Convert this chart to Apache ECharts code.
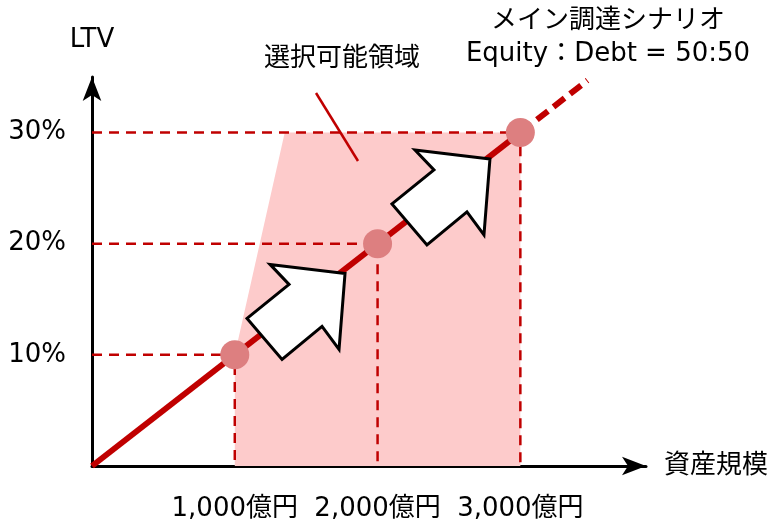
<!DOCTYPE html>
<html><head><meta charset="utf-8">
<script src="https://cdn.jsdelivr.net/npm/echarts@6/dist/echarts.min.js"></script>
<style>html,body{margin:0;padding:0;background:#fff}#c{width:773px;height:528px}</style>
</head><body><div id="c"></div>
<script>
// ---- data ----
const assetSize = [1000, 2000, 3000];             // 資産規模 (億円)
const ltv = [10, 20, 30];                          // LTV (%)
const xTickLabels = ['1,000億円', '2,000億円', '3,000億円'];
const yTickLabels = ['10%', '20%', '30%'];
const mainLineX = [0, 3000];
const mainLineY = [0, 30];
const extLineX = [3000, 3470];
const extLineY = [30, 34.7];
const regionX = [1000, 1350, 3000];                // 選択可能領域 upper boundary
const regionY = [10, 30, 30];
const arrowX = [1429, 2444];
const arrowY = [14.0, 24.3];
const calloutX = [1569, 1863];
const calloutY = [33.56, 27.44];

const RED = '#c00000';
const FONT = "'DejaVu Sans', 'Noto Sans CJK JP', sans-serif";
const ARROW_SHAPE = [[49,-37],[-26,-46],[-7,-26],[-49,8],[-14,49],[26,16],[43,39]];

const zip = (xs, ys) => xs.map((x, i) => [x, ys[i]]);

const guideSeries = assetSize.map((x, i) => ({
  type: 'line', data: [[0, ltv[i]], [x, ltv[i]], [x, 0]], symbol: 'none', silent: true,
  lineStyle: { color: RED, width: 2.5, type: [10, 7] }, z: 2
}));

const chart = echarts.init(document.getElementById('c'));
chart.setOption({
  animation: false,
  textStyle: { fontFamily: FONT },
  title: [
    { text: 'メイン調達シナリオ\nEquity：Debt = 50:50', left: 608, top: 5, textAlign: 'center', padding: 0,
      textStyle: { fontSize: 26, fontWeight: 'normal', color: '#000', lineHeight: 33, fontFamily: FONT } },
    { text: '選択可能領域', left: 342, top: 44, textAlign: 'center', padding: 0,
      textStyle: { fontSize: 26, fontWeight: 'normal', color: '#000', lineHeight: 30, fontFamily: FONT } }
  ],
  grid: { left: 92, top: 77, right: 127, bottom: 62 },
  xAxis: {
    type: 'value', min: 0, max: 3880, interval: 1000,
    name: '資産規模', nameLocation: 'end', nameGap: 18,
    nameTextStyle: { fontSize: 26, color: '#000', fontFamily: FONT, verticalAlign: 'middle' },
    axisLine: { show: true, onZero: false, symbol: ['none', 'arrow'], symbolSize: [14, 24],
      lineStyle: { color: '#000', width: 3 } },
    axisTick: { show: false }, splitLine: { show: false },
    axisLabel: { fontSize: 26, color: '#000', margin: 30, fontFamily: FONT, showMaxLabel: false,
      formatter: v => { const k = assetSize.indexOf(v); return k >= 0 ? xTickLabels[k] : ''; } }
  },
  yAxis: {
    type: 'value', min: 0, max: 35, interval: 10,
    name: 'LTV', nameLocation: 'end', nameGap: 24,
    nameTextStyle: { fontSize: 26, color: '#000', fontFamily: FONT },
    axisLine: { show: true, onZero: false, symbol: ['none', 'arrow'], symbolSize: [14, 24],
      lineStyle: { color: '#000', width: 3 } },
    axisTick: { show: false }, splitLine: { show: false },
    axisLabel: { fontSize: 26, color: '#000', margin: 26, fontFamily: FONT, showMaxLabel: false,
      formatter: v => { const k = ltv.indexOf(v); return k >= 0 ? yTickLabels[k] : ''; } }
  },
  series: [
    { type: 'line', data: zip(regionX, regionY), symbol: 'none', silent: true,
      lineStyle: { width: 0, opacity: 0 }, areaStyle: { color: '#fdcbcb', opacity: 1 }, z: 1 },
    ...guideSeries,
    { type: 'line', data: zip(mainLineX, mainLineY), symbol: 'none', silent: true,
      lineStyle: { color: RED, width: 6 }, z: 3 },
    { type: 'line', data: zip(extLineX, extLineY), symbol: 'none', silent: true,
      lineStyle: { color: RED, width: 6, type: [14, 7] }, z: 3 },
    { type: 'scatter', data: zip(assetSize, ltv), symbolSize: 29, silent: true,
      itemStyle: { color: '#dd7f80', opacity: 1 }, z: 4 },
    { type: 'custom', data: zip(arrowX, arrowY), silent: true, z: 5,
      renderItem: (params, api) => {
        const c = api.coord([api.value(0), api.value(1)]);
        return { type: 'polygon',
          shape: { points: ARROW_SHAPE.map(p => [c[0] + p[0], c[1] + p[1]]) },
          style: { fill: '#fff', stroke: '#000', lineWidth: 3, lineJoin: 'miter' } };
      } },
    { type: 'line', data: zip(calloutX, calloutY), symbol: 'none', silent: true,
      lineStyle: { color: RED, width: 2.5 }, z: 5 }
  ]
});
</script></body></html>
